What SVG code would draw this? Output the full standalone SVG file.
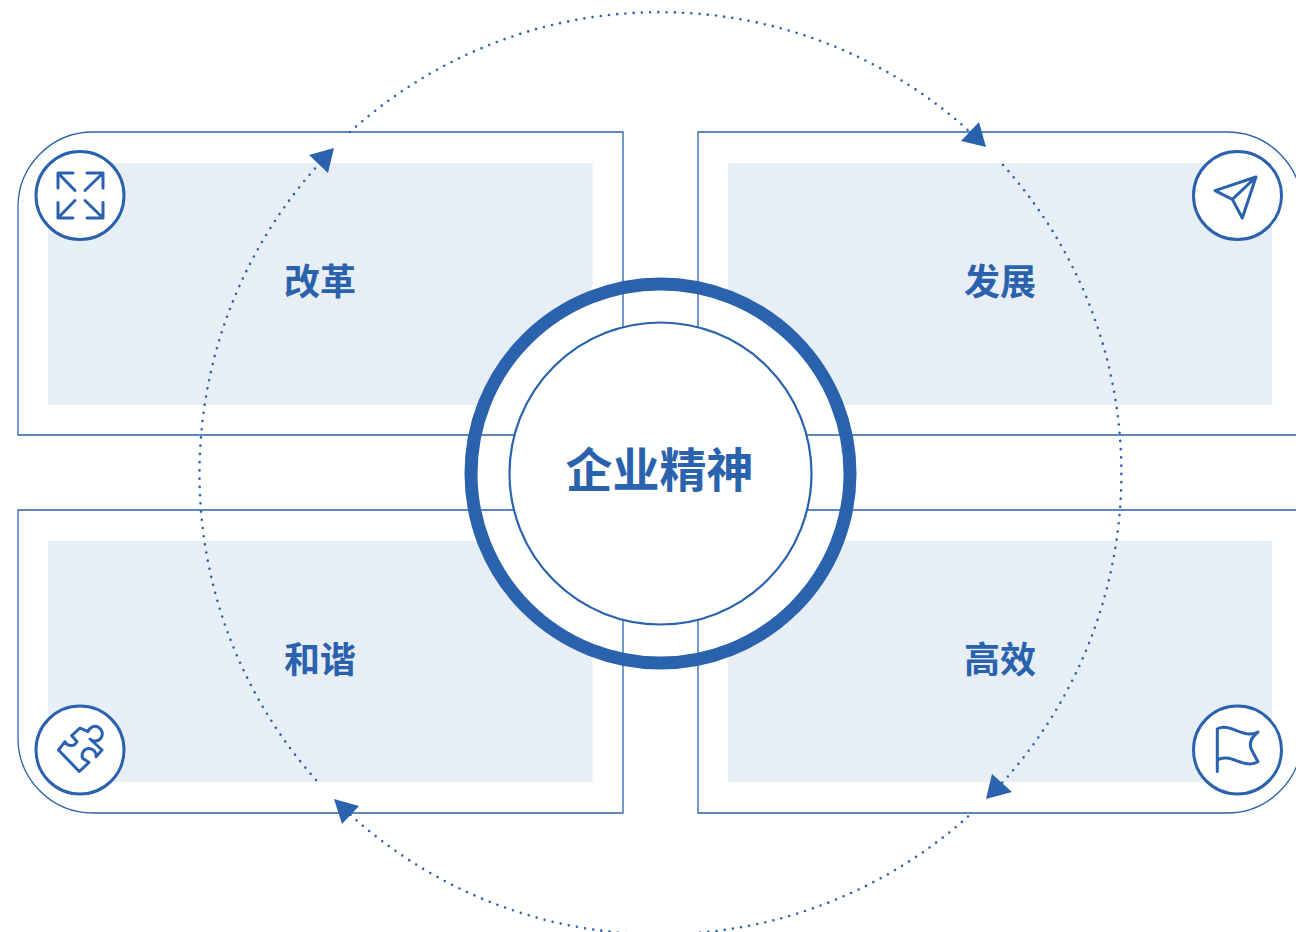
<svg xmlns="http://www.w3.org/2000/svg" width="1296" height="932" viewBox="0 0 1296 932">
<style>
.pale{fill:#e8eef6;stroke:none}
.frame{fill:none;stroke:#2a62ae;stroke-width:1.3}
.badge{fill:#fff;stroke:#2a62ae;stroke-width:3}
.icon{fill:none;stroke:#2a62ae;stroke-width:3;stroke-linecap:round;stroke-linejoin:round}
.label{font-family:"Noto Sans CJK SC","Noto Sans",sans-serif;font-weight:700;font-size:36px;fill:#2a62ae;text-anchor:middle}
.title{font-size:47px}
.dots{fill:none;stroke:#2a62ae;stroke-width:2.6;stroke-linecap:round;stroke-dasharray:0 8.25}
.head{fill:#2a62ae}
</style>
<rect width="1296" height="932" fill="#fff"/>
<g id="node-gaige">
<path class="pale" d="M48 163H592.500V296.100A189.500 189.500 0 0 0 483.100 405H48Z"/>
<path class="frame" d="M623 132H93A75 75 0 0 0 18 207V435H623Z"/>
<circle class="badge" cx="80" cy="195.500" r="44"/>
<path class="icon" d="M58 188V173H73M58 173L75 190.500M103 188V173H87M103 173L85 190.500M58 202.500V218H73M58 218L75 200.500M103 202.500V218H87M103 218L85 200.500"/>
<text class="label" x="320" y="295">改革</text>
</g>
<g id="node-fazhan">
<path class="pale" d="M1272 163H728V296.100A189.500 189.500 0 0 1 836.900 405H1272Z"/>
<path class="frame" d="M698 132H1227A75 75 0 0 1 1302 207V435H698Z"/>
<circle class="badge" cx="1237.500" cy="195.500" r="44"/>
<path class="icon" d="M1256 177L1215 190.700L1232.300 199.300L1242.300 218ZM1256 177L1232.300 199.300"/>
<text class="label" x="1000" y="295">发展</text>
</g>
<g id="node-hexie">
<path class="pale" d="M48 782H592.500V649.900A189.500 189.500 0 0 1 483.100 541H48Z"/>
<path class="frame" d="M623 813H93A75 75 0 0 1 18 738V510H623Z"/>
<circle class="badge" cx="80" cy="750" r="44"/>
<path class="icon" d="M58.500 750L79.300 771.500L89 762.500L82.700 758.300A7 7 0 1 1 96 756.700L102 750L90 739A7.300 7.300 0 1 0 88 731.700L80 728L71.700 735.700L77 741.500A6.500 6.500 0 0 1 65 741.700Z"/>
<text class="label" x="320" y="673">和谐</text>
</g>
<g id="node-gaoxiao">
<path class="pale" d="M1272 782H728V649.900A189.500 189.500 0 0 0 836.900 541H1272Z"/>
<path class="frame" d="M698 813H1227A75 75 0 0 0 1302 738V510H698Z"/>
<circle class="badge" cx="1237.500" cy="750" r="44"/>
<path class="icon" d="M1217.300 771.500V729C1230 722 1244 740 1258 732Q1247 741 1251.700 750T1258 761.700C1244 770 1230 752 1217.300 760"/>
<text class="label" x="1000" y="673">高效</text>
</g>
<g id="node-center">
<circle cx="660.500" cy="473.500" r="189.500" fill="none" stroke="#2a62ae" stroke-width="13"/>
<circle cx="660.500" cy="473.500" r="151" fill="#fff" stroke="#2a62ae" stroke-width="2.200"/>
<text class="label title" x="659.500" y="487">企业精神</text>
</g>
<g id="connectors">
<path class="dots" d="M350 132A461 461 0 0 1 969 131"/>
<polygon class="head" points="986,147 979,122 961,141"/>
<path class="dots" d="M1003 165A461 461 0 0 1 1002 783"/>
<polygon class="head" points="986,799 992,774 1012,792"/>
<path class="dots" d="M968 816.500A461 461 0 0 1 350 814.500"/>
<polygon class="head" points="334,799 359,806 342,824"/>
<path class="dots" d="M316 780A461 461 0 0 1 319 164"/>
<polygon class="head" points="334,148 309,155 328,173"/>
</g>
</svg>
